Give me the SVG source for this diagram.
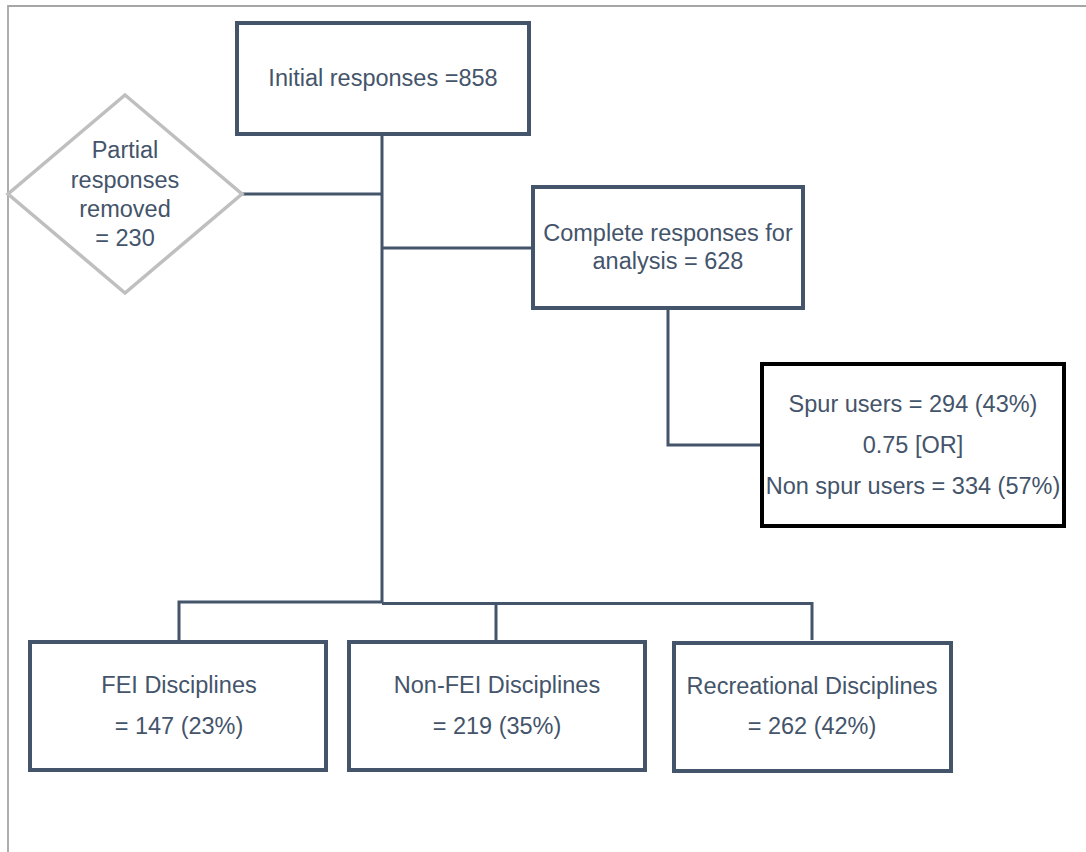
<svg xmlns="http://www.w3.org/2000/svg" width="1086" height="852" viewBox="0 0 1086 852">
<style>
.box{fill:#ffffff;stroke:#44546a;stroke-width:4}
.spur{fill:#ffffff;stroke:#000000;stroke-width:4}
.dia{fill:#ffffff;stroke:#bfbfbf;stroke-width:3.5}
.con{fill:none;stroke:#44546a;stroke-width:3}
.t{font-family:"Liberation Sans",Arial,sans-serif;font-size:23.5px;fill:#44546a;text-anchor:middle}
</style>
<rect width="1086" height="852" fill="#ffffff"/>
<path d="M8,852 V6 H1086" fill="none" stroke="#a6a6a6" stroke-width="1.8"/>
<g id="connectors">
<path class="con" d="M382,136 V603"/>
<path class="con" d="M242,194 H382"/>
<path class="con" d="M382,248 H531"/>
<path class="con" d="M668,310 V445 H760"/>
<path class="con" d="M179,640 V602 H382"/>
<path class="con" d="M382,603.5 H812 V640"/>
<path class="con" d="M496,603.5 V640"/>
</g>
<g id="initial">
<rect class="box" x="237" y="23" width="292" height="111"/>
<text class="t" x="383" y="86">Initial responses =858</text>
</g>
<g id="partial">
<polygon class="dia" points="125,95 242,194 125,293 8,194"/>
<text class="t" x="125" y="158">Partial</text>
<text class="t" x="125" y="188">responses</text>
<text class="t" x="125" y="217">removed</text>
<text class="t" x="125" y="246">= 230</text>
</g>
<g id="complete">
<rect class="box" x="533" y="187" width="270" height="121"/>
<text class="t" x="668" y="241">Complete responses for</text>
<text class="t" x="668" y="269">analysis = 628</text>
</g>
<g id="spur">
<rect class="spur" x="762" y="364" width="302" height="162"/>
<text class="t" x="913" y="412">Spur users = 294 (43%)</text>
<text class="t" x="913" y="453">0.75 [OR]</text>
<text class="t" x="913" y="494">Non spur users = 334 (57%)</text>
</g>
<g id="fei">
<rect class="box" x="30" y="642" width="296" height="128"/>
<text class="t" x="179" y="693">FEI Disciplines</text>
<text class="t" x="179" y="734">= 147 (23%)</text>
</g>
<g id="nonfei">
<rect class="box" x="349" y="642" width="296" height="128"/>
<text class="t" x="497" y="693">Non-FEI Disciplines</text>
<text class="t" x="497" y="734">= 219 (35%)</text>
</g>
<g id="recreational">
<rect class="box" x="674" y="643" width="277" height="128"/>
<text class="t" x="812" y="694">Recreational Disciplines</text>
<text class="t" x="812" y="734">= 262 (42%)</text>
</g>
</svg>
